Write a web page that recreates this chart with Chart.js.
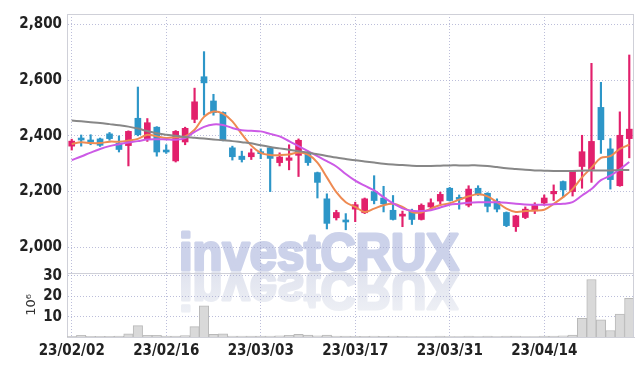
<!DOCTYPE html>
<html>
<head>
<meta charset="utf-8">
<script src="https://cdn.jsdelivr.net/npm/chart.js@4.4.1/dist/chart.umd.min.js"></script>
<style>
    html, body { margin: 0; padding: 0; background: #fff; }
    #wrap { width: 642px; height: 366px; position: relative; }
</style>
</head>
<body>
<div id="wrap"><canvas id="priceChart"></canvas></div>
<script>
// Trading days (yy/mm/dd)
const dates = [
    '23/02/02', '23/02/03', '23/02/06', '23/02/07', '23/02/08', '23/02/09', '23/02/10', '23/02/13', '23/02/14', '23/02/15',
    '23/02/16', '23/02/17', '23/02/20', '23/02/21', '23/02/22', '23/02/23', '23/02/24', '23/02/27', '23/02/28', '23/03/02',
    '23/03/03', '23/03/06', '23/03/07', '23/03/08', '23/03/09', '23/03/10', '23/03/13', '23/03/14', '23/03/15', '23/03/16',
    '23/03/17', '23/03/20', '23/03/21', '23/03/22', '23/03/23', '23/03/24', '23/03/27', '23/03/28', '23/03/29', '23/03/30',
    '23/03/31', '23/04/03', '23/04/04', '23/04/05', '23/04/06', '23/04/07', '23/04/10', '23/04/11', '23/04/12', '23/04/13',
    '23/04/14', '23/04/17', '23/04/18', '23/04/19', '23/04/20', '23/04/21', '23/04/24', '23/04/25', '23/04/26', '23/04/27'
];

const opens = [
    2363, 2392, 2383, 2389, 2407, 2374, 2365, 2463, 2389, 2431,
    2347, 2310, 2378, 2459, 2612, 2525, 2484, 2357, 2327, 2325,
    2341, 2357, 2304, 2312, 2330, 2339, 2268, 2174, 2106, 2094,
    2137, 2124, 2200, 2177, 2133, 2112, 2130, 2100, 2145, 2166,
    2212, 2177, 2151, 2212, 2194, 2165, 2125, 2074, 2107, 2131,
    2159, 2192, 2236, 2200, 2290, 2280, 2502, 2353, 2221, 2390
];
const highs = [
    2388, 2403, 2404, 2392, 2412, 2400, 2418, 2575, 2462, 2433,
    2368, 2419, 2431, 2571, 2702, 2549, 2486, 2363, 2345, 2353,
    2353, 2360, 2339, 2368, 2389, 2345, 2270, 2192, 2133, 2121,
    2162, 2177, 2257, 2219, 2186, 2130, 2137, 2156, 2174, 2198,
    2215, 2188, 2221, 2221, 2196, 2174, 2127, 2115, 2145, 2160,
    2188, 2224, 2238, 2274, 2402, 2660, 2592, 2390, 2486, 2690
];
const lows = [
    2349, 2363, 2368, 2362, 2384, 2342, 2292, 2400, 2380, 2327,
    2337, 2306, 2368, 2447, 2474, 2474, 2382, 2313, 2306, 2315,
    2318, 2200, 2292, 2278, 2254, 2294, 2177, 2066, 2098, 2063,
    2092, 2121, 2156, 2127, 2098, 2074, 2082, 2098, 2137, 2156,
    2166, 2137, 2145, 2186, 2127, 2127, 2074, 2057, 2103, 2121,
    2151, 2168, 2180, 2184, 2212, 2233, 2337, 2209, 2219, 2321
];
const closes = [
    2381, 2385, 2378, 2366, 2390, 2351, 2416, 2404, 2447, 2342,
    2342, 2416, 2427, 2522, 2590, 2483, 2384, 2325, 2315, 2339,
    2336, 2319, 2324, 2321, 2384, 2304, 2233, 2086, 2125, 2091,
    2153, 2174, 2168, 2156, 2100, 2116, 2100, 2151, 2160, 2190,
    2168, 2172, 2209, 2192, 2147, 2137, 2078, 2113, 2137, 2153,
    2177, 2201, 2206, 2272, 2343, 2380, 2386, 2243, 2402, 2424
];

// Moving averages
const ma5 = [
    2371, 2377, 2374, 2374, 2379, 2379, 2383, 2389, 2404, 2398,
    2392, 2395, 2398, 2422, 2468, 2487, 2480, 2452, 2406, 2365,
    2339, 2331, 2331, 2333, 2340, 2333, 2304, 2251, 2198, 2162,
    2145, 2127, 2139, 2151, 2156, 2145, 2127, 2125, 2139, 2152,
    2158, 2171, 2183, 2190, 2183, 2162, 2139, 2127, 2130, 2132,
    2135, 2156, 2180, 2209, 2251, 2286, 2321, 2327, 2353, 2368
];
const ma20 = [
    2313, 2326, 2340, 2353, 2363, 2370, 2376, 2381, 2387, 2388,
    2387, 2386, 2392, 2414, 2432, 2441, 2439, 2428, 2420, 2418,
    2416, 2407, 2398, 2381, 2363, 2345, 2327, 2309, 2290, 2263,
    2239, 2221, 2204, 2180, 2158, 2140, 2131, 2130, 2133, 2143,
    2153, 2156, 2160, 2162, 2162, 2162, 2160, 2156, 2154, 2153,
    2153, 2155, 2156, 2162, 2186, 2209, 2241, 2257, 2280, 2306
];
const ma60 = [
    2455, 2452, 2449, 2446, 2442, 2438, 2433, 2426, 2417, 2409,
    2404, 2400, 2396, 2393, 2390, 2387, 2384, 2381, 2377, 2373,
    2366, 2360, 2355, 2350, 2345, 2340, 2334, 2328, 2322, 2317,
    2312, 2308, 2304, 2300, 2297, 2295, 2293, 2292, 2292, 2293,
    2294, 2294, 2294, 2294, 2292, 2288, 2284, 2281, 2278, 2276,
    2275, 2274, 2274, 2274, 2275, 2276, 2276, 2276, 2277, 2277
];

// Volume, millions of shares
const volumes = [
    0.3, 0.8, 0.3, 0.3, 0.3, 0.4, 1.6, 5.6, 0.8, 0.8,
    0.4, 0.4, 0.7, 5.1, 15.3, 1.3, 1.6, 0.5, 0.5, 0.4,
    0.4, 0.5, 0.6, 0.8, 1.3, 1.0, 0.6, 0.9, 0.5, 0.4,
    0.3, 0.3, 0.5, 0.3, 0.5, 0.3, 0.2, 0.2, 0.2, 0.4,
    0.2, 0.2, 0.4, 0.2, 0.4, 0.2, 0.4, 0.4, 0.2, 0.2,
    0.4, 0.4, 0.6, 1.0, 9.2, 28.2, 8.4, 3.2, 11.3, 19.0
];

const priceTicks = [2000, 2200, 2400, 2600, 2800];
const volumeTicks = [10, 20, 30];

const UP = '#e2206c';
const DOWN = '#2d96c8';
const GRID = 'rgba(165,168,205,0.75)';
const FRAME = '#cfd0d8';
const tickFont = { family: "'Liberation Sans Narrow', 'DejaVu Sans Condensed', sans-serif", size: 15, weight: 'bold' };

const candleColors = opens.map((o, i) => closes[i] >= o ? UP : DOWN);

// Watermark with reflection, drawn under grid and data
const watermark = {
    id: 'watermark',
    beforeDraw(chart) {
        const ctx = chart.ctx;
        const text = 'investCRUX';
        ctx.save();
        ctx.font = "bold 52px 'Liberation Sans', Arial, sans-serif";
        ctx.lineJoin = 'round';
        const w = ctx.measureText(text).width;
        ctx.translate(179, 270);
        ctx.scale(280 / w, 1);
        ctx.fillStyle = '#ccd2ea';
        ctx.strokeStyle = '#ccd2ea';
        ctx.lineWidth = 3;
        ctx.fillText(text, 0, 0);
        ctx.strokeText(text, 0, 0);
        // mirrored copy fading downwards
        ctx.scale(1, -1);
        const fade = ctx.createLinearGradient(0, -4, 0, -44);
        fade.addColorStop(0, '#e1e4ef');
        fade.addColorStop(1, '#eef0f5');
        ctx.fillStyle = fade;
        ctx.strokeStyle = fade;
        ctx.fillText(text, 0, -3);
        ctx.strokeText(text, 0, -3);
        ctx.restore();
    }
};

// Outer frame and separator between price and volume panels
const frame = {
    id: 'frame',
    afterDraw(chart) {
        const ctx = chart.ctx;
        const a = chart.chartArea;
        const sep = chart.scales.y.bottom;
        ctx.save();
        ctx.strokeStyle = FRAME;
        ctx.lineWidth = 1;
        ctx.beginPath();
        ctx.moveTo(a.left, a.top + 0.5);
        ctx.lineTo(a.right, a.top + 0.5);
        ctx.moveTo(a.right - 0.5, a.top);
        ctx.lineTo(a.right - 0.5, a.bottom);
        ctx.moveTo(a.left, Math.round(sep) + 0.5);
        ctx.lineTo(a.right, Math.round(sep) + 0.5);
        ctx.stroke();
        ctx.restore();
    }
};

const lineStyle = (data, color) => ({
    type: 'line',
    data: data,
    yAxisID: 'y',
    borderColor: color,
    borderWidth: 2,
    pointRadius: 0,
    tension: 0.35,
    order: 0
});

new Chart(document.getElementById('priceChart'), {
    type: 'bar',
    data: {
        labels: dates,
        datasets: [
            lineStyle(ma60, '#878787'),
            lineStyle(ma20, '#cc5ae6'),
            lineStyle(ma5, '#ee8a52'),
            {
                // wicks
                data: lows.map((l, i) => [l, highs[i]]),
                yAxisID: 'y',
                backgroundColor: candleColors,
                barThickness: 1.5,
                grouped: false,
                order: 2
            },
            {
                // bodies
                data: opens.map((o, i) => [o, closes[i]]),
                yAxisID: 'y',
                backgroundColor: candleColors,
                barThickness: 6,
                minBarLength: 2,
                grouped: false,
                order: 1
            },
            {
                data: volumes,
                yAxisID: 'yv',
                backgroundColor: '#d9d9d9',
                borderColor: '#b9b9b9',
                borderWidth: 1,
                barPercentage: 1,
                categoryPercentage: 1,
                grouped: false,
                order: 3
            }
        ]
    },
    options: {
        responsive: true,
        maintainAspectRatio: false,
        animation: false,
        layout: { padding: { top: 9, right: 8, left: 0, bottom: 0 } },
        plugins: {
            legend: { display: false },
            tooltip: { enabled: false }
        },
        scales: {
            x: {
                offset: true,
                grid: {
                    offset: false,
                    drawTicks: false,
                    color: ctx => (ctx.index % 10 === 0 ? GRID : 'transparent')
                },
                border: { color: FRAME, dash: [1, 2] },
                ticks: {
                    autoSkip: false,
                    maxRotation: 0,
                    padding: 5,
                    color: '#222',
                    font: tickFont,
                    callback: function (val, i) { return i % 10 === 0 ? this.getLabelForValue(val) : ''; }
                },
                afterFit(scale) { scale.height = 29; }
            },
            // volume first: stacked left axes are laid out bottom-up
            yv: {
                position: 'left',
                stack: 'panels',
                stackWeight: 65,
                min: 0,
                max: 31.4,
                grid: { color: GRID, drawTicks: false },
                border: { color: FRAME, dash: [1, 2] },
                title: {
                    display: true,
                    text: '10⁶',
                    color: '#333',
                    font: { family: "'DejaVu Sans', sans-serif", size: 13 },
                    padding: { top: 24, bottom: 0 }
                },
                ticks: {
                    autoSkip: false,
                    padding: 5,
                    color: '#222',
                    font: tickFont
                },
                afterBuildTicks(scale) { scale.ticks = volumeTicks.map(v => ({ value: v })); },
                afterFit(scale) { scale.width = 67; }
            },
            y: {
                position: 'left',
                stack: 'panels',
                stackWeight: 263,
                min: 1908,
                max: 2837,
                grid: { color: GRID, drawTicks: false },
                border: { color: FRAME, dash: [1, 2] },
                ticks: {
                    autoSkip: false,
                    padding: 5,
                    color: '#222',
                    font: tickFont,
                    callback: v => v.toLocaleString('en-US')
                },
                afterBuildTicks(scale) { scale.ticks = priceTicks.map(v => ({ value: v })); },
                afterFit(scale) { scale.width = 67; }
            }
        }
    },
    plugins: [watermark, frame]
});
</script>
</body>
</html>
